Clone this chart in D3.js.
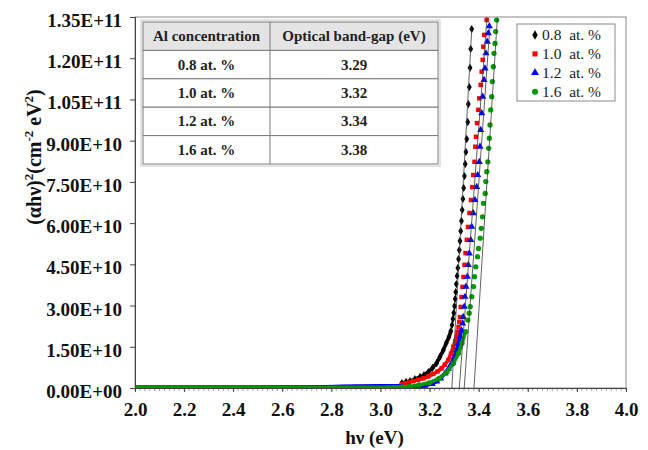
<!DOCTYPE html>
<html>
<head>
<meta charset="utf-8">
<script src="https://d3js.org/d3.v7.min.js"></script>
<style>
  body { margin: 0; background: #fff; }
  svg text { font-family: "Liberation Serif", "Times New Roman", serif; }
</style>
</head>
<body>
<svg id="chart"></svg>
<script>
var width = 648, height = 450;

// (alpha h nu)^2 values in units of 1E+10, against h nu (eV)
var s08 = [[2.00,0.03],[2.50,0.03],[2.80,0.04],[3.00,0.05],[3.08,0.06],
  [3.087,0.18],[3.104,0.22],[3.120,0.25],[3.140,0.32],[3.161,0.40],[3.177,0.47],[3.195,0.58],[3.212,0.73],
  [3.229,0.91],[3.242,1.13],[3.256,1.38],[3.268,1.64],[3.279,1.86],[3.2865,2.07],[3.291,2.29],[3.295,2.51],
  [3.2985,2.73],[3.3015,2.98],[3.3042,3.24],[3.3065,3.49],[3.309,3.78],[3.312,4.08],[3.315,4.37],[3.318,4.69],
  [3.321,5.02],[3.3238,5.35],[3.3268,5.71],[3.3297,6.08],[3.3327,6.48],[3.3357,6.88],[3.3387,7.28],[3.3418,7.71],
  [3.345,8.15],[3.348,8.59],[3.3511,9.06],[3.3552,9.68],[3.3576,10.33],[3.3617,10.95],[3.3646,11.65],
  [3.3674,12.34],[3.3715,13.06]];

var s10 = [[2.00,0.03],[2.50,0.03],[2.80,0.04],[3.00,0.05],[3.08,0.05],
  [3.088,0.14],[3.0998,0.17],[3.115,0.20],[3.1336,0.25],[3.153,0.30],[3.1743,0.35],[3.195,0.42],[3.2151,0.51],
  [3.232,0.60],[3.2493,0.72],[3.262,0.85],[3.2762,1.02],[3.287,1.25],[3.2965,1.50],[3.304,1.70],[3.3104,1.87],
  [3.314,2.05],[3.3177,2.22],[3.321,2.40],[3.3238,2.58],[3.3267,2.95],[3.3299,3.31],[3.334,3.68],[3.3381,4.04],
  [3.3422,4.48],[3.3462,4.91],[3.3515,5.39],[3.3564,5.86],[3.3625,6.37],[3.3686,6.84],[3.3739,7.31],
  [3.378,7.75],[3.3829,8.23],[3.3862,8.78],[3.389,9.14],[3.3931,9.64],[3.3984,10.12],[3.4024,10.54],
  [3.4081,11.03],[3.4122,11.51],[3.4163,11.94],[3.4187,12.42],[3.4228,12.85],[3.4326,13.39]];

var s12 = [[2.00,0.02],[2.50,0.02],[2.70,0.03],[2.85,0.06],[3.00,0.08],[3.08,0.08],
  [3.09,0.01],[3.12,0.02],[3.15,0.04],[3.18,0.08],[3.21,0.15],[3.2289,0.24],[3.245,0.35],[3.2627,0.53],
  [3.277,0.70],[3.29,0.90],[3.301,1.13],[3.3104,1.38],[3.318,1.62],[3.3238,1.87],[3.33,2.10],[3.3348,2.35],
  [3.3373,2.59],[3.3413,2.96],[3.3442,3.32],[3.3483,3.69],[3.3536,4.05],[3.3576,4.48],[3.3617,4.90],
  [3.3674,5.39],[3.3715,5.87],[3.378,6.36],[3.3849,6.84],[3.3918,7.32],[3.3959,7.75],[3.4024,8.23],
  [3.4053,8.78],[3.4081,9.39],[3.4122,10.00],[3.4163,10.60],[3.4216,11.21],[3.4257,11.63],[3.4297,12.18],
  [3.435,12.60],[3.4391,12.91],[3.4432,13.17]];

var s16 = [[2.00,0.02],[2.50,0.02],[2.80,0.03],[3.00,0.03],[3.08,0.04],
  [3.09,0.04],[3.1161,0.05],[3.1568,0.11],[3.1976,0.19],[3.2383,0.35],[3.2709,0.59],[3.2974,0.90],
  [3.3177,1.26],[3.332,1.63],[3.3462,2.05],[3.3556,2.47],[3.3613,2.72],[3.3654,2.96],[3.3719,3.32],
  [3.3788,3.69],[3.3829,4.05],[3.3882,4.41],[3.3951,4.78],[3.3992,5.08],[3.4061,5.45],[3.4102,5.81],
  [3.4155,6.23],[3.4196,6.72],[3.4265,7.08],[3.4289,7.51],[3.433,7.87],[3.4371,8.23],[3.4407,8.72],
  [3.4432,9.09],[3.446,9.57],[3.4489,10.12],[3.453,10.60],[3.4554,11.15],[3.4595,11.69],[3.4623,12.18],
  [3.4664,12.54],[3.4692,12.97],[3.4733,13.39]];

var seriesNames = ["0.8\u00a0\u00a0at. %", "1.0\u00a0\u00a0at. %", "1.2\u00a0\u00a0at. %", "1.6\u00a0\u00a0at. %"];
var concLabels = ["0.8 at. %", "1.0 at. %", "1.2 at. %", "1.6 at. %"];
var bandGaps = ["3.29", "3.32", "3.34", "3.38"];
var tableHeader = ["Al concentration", "Optical band-gap (eV)"];
// upper end of each fitted line
var fitTops = [[3.372, 13.1], [3.434, 13.5], [3.446, 13.2], [3.476, 13.46]];

var xTicks = [2.0, 2.2, 2.4, 2.6, 2.8, 3.0, 3.2, 3.4, 3.6, 3.8, 4.0];
var yTicks = [0, 1.5, 3, 4.5, 6, 7.5, 9, 10.5, 12, 13.5];
var yTickLabels = ["0.00E+00", "1.50E+10", "3.00E+10", "4.50E+10", "6.00E+10",
  "7.50E+10", "9.00E+10", "1.05E+11", "1.20E+11", "1.35E+11"];

var series = [s08, s10, s12, s16];
var colors = ["#000000", "#ff0000", "#0000ff", "#009a00"];
var symbols = [d3.symbolDiamond, d3.symbolSquare, d3.symbolTriangle, d3.symbolCircle];
var symSizes = [20, 20, 22, 22];

var pLeft = 135, pRight = 626, pTop = 17, pBottom = 388;

var x = d3.scaleLinear().domain([2, 4]).range([pLeft, pRight]);
var y = d3.scaleLinear().domain([0, 13.5]).range([pBottom, pTop]);

var svg = d3.select("#chart").attr("width", width).attr("height", height);

svg.append("defs").append("clipPath").attr("id", "plotclip")
  .append("rect").attr("x", pLeft).attr("y", pTop).attr("width", pRight - pLeft).attr("height", pBottom - pTop);

// plot frame
svg.append("rect")
  .attr("x", pLeft).attr("y", pTop).attr("width", pRight - pLeft).attr("height", pBottom - pTop)
  .attr("fill", "#fff").attr("stroke", "#8a8a8a").attr("stroke-width", 1);

// minor ticks on x
svg.append("g").selectAll("line")
  .data(x.ticks(100))
  .enter().append("line")
  .attr("x1", function(d) { return x(d); }).attr("x2", function(d) { return x(d); })
  .attr("y1", pBottom).attr("y2", pBottom + 3)
  .attr("stroke", "#666").attr("stroke-width", 0.6);

var xAxis = svg.append("g")
  .attr("transform", "translate(0," + pBottom + ")")
  .call(d3.axisBottom(x).tickValues(xTicks).tickFormat(d3.format(".1f")).tickSize(4).tickPadding(11));
xAxis.selectAll("text").attr("font-size", 19).attr("font-weight", "bold").attr("fill", "#111");

var yAxis = svg.append("g")
  .attr("transform", "translate(" + pLeft + ",0)")
  .call(d3.axisLeft(y).tickValues(yTicks).tickFormat(function(d, i) { return yTickLabels[i]; }).tickSize(5).tickPadding(8));
yAxis.selectAll("text").attr("font-size", 19).attr("font-weight", "bold").attr("fill", "#111").attr("dy", "0.5em");

[xAxis, yAxis].forEach(function(a) {
  a.select(".domain").attr("stroke", "#444");
  a.selectAll(".tick line").attr("stroke", "#444");
});

// data
var plot = svg.append("g").attr("clip-path", "url(#plotclip)");

var line = d3.line()
  .x(function(d) { return x(d[0]); })
  .y(function(d) { return y(d[1]); });

series.forEach(function(s, i) {
  // dense part of the record, where markers merge into a band
  plot.append("path")
    .datum(s.filter(function(d) { return d[1] <= 2.1; }))
    .attr("d", line)
    .attr("fill", "none")
    .attr("stroke", colors[i])
    .attr("stroke-width", 3.6)
    .attr("stroke-linejoin", "round");

  plot.append("g").selectAll("path")
    .data(s.filter(function(d) { return d[0] >= 3.085; }))
    .enter().append("path")
    .attr("transform", function(d) { return "translate(" + x(d[0]) + "," + y(d[1]) + ")"; })
    .attr("d", d3.symbol().type(symbols[i]).size(symSizes[i]))
    .attr("fill", colors[i]);
});

// fitted straight lines
plot.append("g").selectAll("line")
  .data(bandGaps)
  .enter().append("line")
  .attr("x1", function(d) { return x(+d); })
  .attr("y1", y(0) + 3)
  .attr("x2", function(d, i) { return x(fitTops[i][0]); })
  .attr("y2", function(d, i) { return y(fitTops[i][1]); })
  .attr("stroke", "#3a3a3a").attr("stroke-width", 0.8);

// table
var tx0 = 143, tx1 = 270, tx2 = 438, ty0 = 22, rowH = 28.4;
var rows = [tableHeader].concat(concLabels.map(function(c, i) { return [c, bandGaps[i]]; }));
var table = svg.append("g");
table.append("rect")
  .attr("x", tx0 - 2).attr("y", ty0 - 2).attr("width", tx2 - tx0 + 4).attr("height", rowH * rows.length + 4)
  .attr("fill", "none").attr("stroke", "#c8c8c8").attr("stroke-width", 1);
var tr = table.selectAll("g.row").data(rows).enter().append("g").attr("class", "row");
tr.append("rect")
  .attr("x", tx0).attr("y", function(d, i) { return ty0 + i * rowH; })
  .attr("width", tx2 - tx0).attr("height", rowH)
  .attr("fill", function(d, i) { return i === 0 ? "#e4e4e4" : "#fff"; })
  .attr("stroke", "#7a7a7a").attr("stroke-width", 1);
tr.append("line")
  .attr("x1", tx1).attr("x2", tx1)
  .attr("y1", function(d, i) { return ty0 + i * rowH; })
  .attr("y2", function(d, i) { return ty0 + (i + 1) * rowH; })
  .attr("stroke", "#7a7a7a").attr("stroke-width", 1);
tr.selectAll("text")
  .data(function(d, i) { return d.map(function(t, j) { return { t: t, j: j, i: i }; }); })
  .enter().append("text")
  .attr("x", function(d) { return d.j === 0 ? (tx0 + tx1) / 2 : (tx1 + tx2) / 2; })
  .attr("y", function(d) { return ty0 + d.i * rowH + rowH / 2 + 5; })
  .attr("text-anchor", "middle")
  .attr("font-size", 15).attr("font-weight", "bold").attr("fill", "#222")
  .text(function(d) { return d.t; });

// legend
var lg = svg.append("g");
lg.append("rect").attr("x", 517).attr("y", 24).attr("width", 98).attr("height", 77)
  .attr("fill", "#fff").attr("stroke", "#8a8a8a");
var li = lg.selectAll("g.item").data(seriesNames).enter().append("g")
  .attr("transform", function(d, i) { return "translate(535," + (35 + i * 18.9) + ")"; });
li.append("path")
  .attr("d", function(d, i) { return d3.symbol().type(symbols[i]).size(symSizes[i] + 6)(); })
  .attr("fill", function(d, i) { return colors[i]; });
li.append("text")
  .attr("x", 7).attr("y", 5)
  .attr("font-size", 15.5).attr("fill", "#222")
  .text(function(d) { return d; });

// axis titles
svg.append("text")
  .attr("x", (pLeft + pRight) / 2 - 6).attr("y", 444)
  .attr("text-anchor", "middle")
  .attr("font-size", 19).attr("font-weight", "bold").attr("fill", "#111")
  .text("h\u03bd (eV)");

var yt = svg.append("text")
  .attr("transform", "translate(41,157) rotate(-90)")
  .attr("text-anchor", "middle")
  .attr("font-size", 20).attr("font-weight", "bold").attr("fill", "#111");
yt.append("tspan").text("(\u03b1h\u03bd)");
yt.append("tspan").attr("font-size", 13).attr("dy", -8).text("2");
yt.append("tspan").attr("dy", 8).text("(cm");
yt.append("tspan").attr("font-size", 13).attr("dy", -8).text("-2");
yt.append("tspan").attr("dy", 8).text(" eV");
yt.append("tspan").attr("font-size", 13).attr("dy", -8).text("2");
yt.append("tspan").attr("dy", 8).text(")");
</script>
</body>
</html>
